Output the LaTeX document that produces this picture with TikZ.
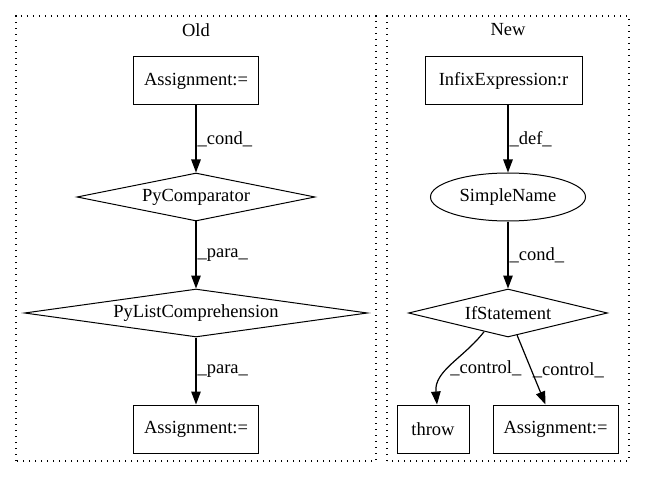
\documentclass[tikz,border=0pt]{standalone}
\usepackage{fontspec}
\setmainfont{Liberation Serif}
\usetikzlibrary{arrows.meta, shapes.geometric}

\begin{document}
\begin{tikzpicture}[x=1pt, y=1pt,
every node/.style={font=\fontsize{18.5}{22}\selectfont},
box/.style={draw, line width=1pt, rectangle, minimum height=48pt, inner sep=0pt},
diam/.style={draw, line width=1pt, diamond, aspect=6, minimum height=48pt, inner sep=0pt},
oval/.style={draw, line width=1pt, ellipse, minimum height=48pt, inner sep=0pt},
cluster/.style={draw, line width=1.3pt, dash pattern=on 1.4pt off 4.6pt},
edge/.style={draw, line width=1.2pt, -{Triangle[length=13pt, width=9.5pt]}},
elabel/.style={anchor=west, inner sep=1pt}]
%    frame of the page
\useasboundingbox (0,0) rectangle (645,480);

\draw[cluster] (16,19) rectangle (376,464);
\draw[cluster] (387,19) rectangle (629,464);
\node (old) at (196,450) {Old};
\node (new) at (508,450) {New};

% old
\node[box, minimum width=125pt] (asgA) at (196,399) {Assignment:=};
\node[diam, minimum width=238pt] (cmp) at (196,283) {PyComparator};
\node[diam, minimum width=343pt] (lcomp) at (196,167) {PyListComprehension};
\node[box, minimum width=125pt] (asgB) at (196,51) {Assignment:=};

\draw[edge] (asgA) -- node[elabel] {\_cond\_} (cmp);
\draw[edge] (cmp) -- node[elabel] {\_para\_} (lcomp);
\draw[edge] (lcomp) -- node[elabel] {\_para\_} (asgB);

% new
\node[box, minimum width=157pt] (infix) at (503.5,399) {InfixExpression:r};
\node[oval, minimum width=155pt] (sname) at (508,283) {SimpleName};
\node[diam, minimum width=199pt] (ifst) at (508,167) {IfStatement};
\node[box, minimum width=72pt] (throw) at (433,51) {throw};
\node[box, minimum width=125pt] (asgC) at (555.5,51) {Assignment:=};

\draw[edge] (infix.south -| sname.north) -- node[elabel] {\_def\_} (sname);
\draw[edge] (sname) -- node[elabel] {\_cond\_} (ifst);
\draw[edge] (ifst.218) to[out=232, in=95] node[elabel, pos=0.55] {\_control\_} ([xshift=4pt]throw.north);
\draw[edge] (ifst) -- node[elabel, pos=0.5] {\_control\_} (asgC);

\end{tikzpicture}
\end{document}
